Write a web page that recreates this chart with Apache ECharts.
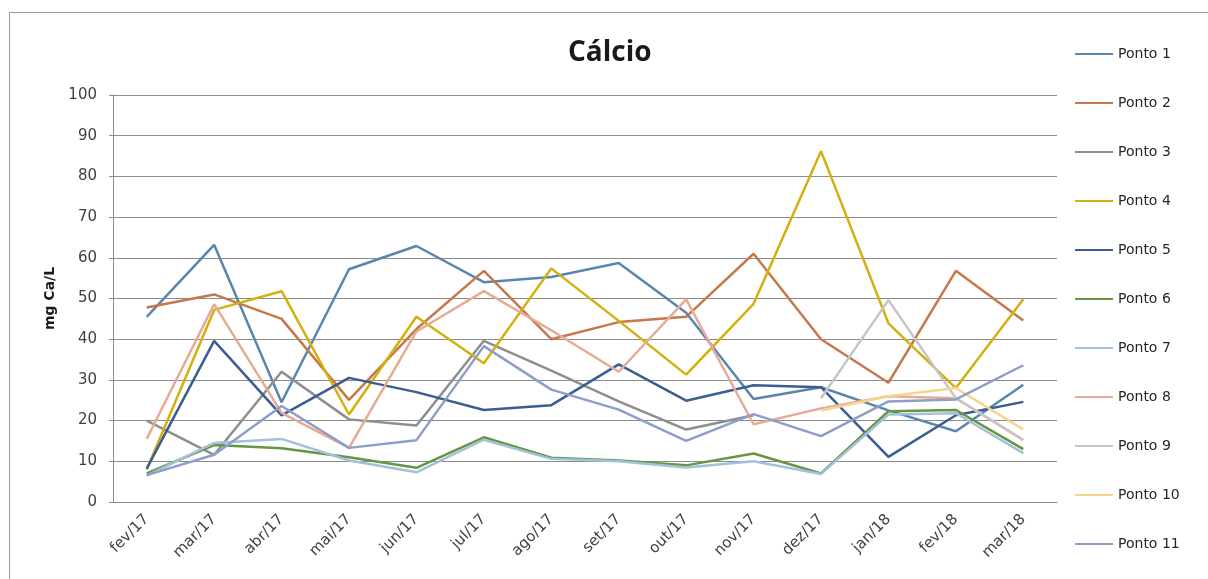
<!DOCTYPE html>
<html>
<head>
<meta charset="utf-8">
<script src="https://cdn.jsdelivr.net/npm/echarts@6/dist/echarts.min.js"></script>
<style>
html,body{margin:0;padding:0;background:#fff;}
#chart{width:1208px;height:579px;}
</style>
</head>
<body>
<div id="chart"></div>
<script>
var categories = ['fev/17','mar/17','abr/17','mai/17','jun/17','jul/17','ago/17','set/17','out/17','nov/17','dez/17','jan/18','fev/18','mar/18'];
var yTicks = [0,10,20,30,40,50,60,70,80,90,100];
var ponto1  = [45.5, 63.2, 24.5, 57.2, 62.9, 54.0, 55.3, 58.7, 46.5, 25.3, 28.2, 22.5, 17.4, 28.8];
var ponto2  = [47.8, 51.0, 45.0, 25.1, 42.5, 56.8, 40.0, 44.2, 45.5, 61.0, 40.0, 29.3, 56.8, 44.6];
var ponto3  = [20.0, 11.6, 32.0, 20.3, 18.8, 39.6, 32.3, 24.7, 17.8, 21.3, null, null, null, null];
var ponto4  = [8.0, 47.2, 51.8, 21.5, 45.5, 34.1, 57.4, 44.5, 31.3, 48.7, 86.2, 43.9, 28.0, 49.8];
var ponto5  = [8.2, 39.6, 21.3, 30.5, 27.0, 22.6, 23.8, 33.8, 24.9, 28.7, 28.2, 11.1, 21.3, 24.6];
var ponto6  = [7.0, 14.0, 13.2, 11.0, 8.4, 15.9, 10.9, 10.2, 9.0, 11.9, 7.0, 22.3, 22.6, 13.0];
var ponto7  = [6.5, 14.5, 15.5, 10.2, 7.3, 15.3, 10.6, 10.0, 8.5, 10.0, 6.9, 21.5, 21.8, 12.0];
var ponto8  = [15.5, 48.6, 21.9, 13.3, 41.9, 51.8, 42.2, 32.0, 49.8, 19.1, 23.0, 26.0, 25.5, 15.2];
var ponto9  = [null, null, null, null, null, null, null, null, null, null, 25.5, 49.6, 25.5, 15.3];
var ponto10 = [null, null, null, null, null, null, null, null, null, null, 22.5, 26.0, 28.0, 17.8];
var ponto11 = [6.6, 11.6, 23.6, 13.3, 15.2, 38.3, 27.6, 22.7, 15.0, 21.6, 16.2, 24.7, 25.2, 33.6];

var seriesNames = ['Ponto 1','Ponto 2','Ponto 3','Ponto 4','Ponto 5','Ponto 6','Ponto 7','Ponto 8','Ponto 9','Ponto 10','Ponto 11'];
var seriesData = [ponto1,ponto2,ponto3,ponto4,ponto5,ponto6,ponto7,ponto8,ponto9,ponto10,ponto11];
var colors = ['#5a86ad','#c6784a','#8e8e8e','#d3b00c','#3a5d92','#64973f','#a3c0dc','#e7ab95','#c6c6c6','#f6d48e','#8d9ec8'];

var chart = echarts.init(document.getElementById('chart'), null, {renderer:'canvas'});
var FONT = '"DejaVu Sans", Verdana, sans-serif';
var TFONT = '"Open Sans", "Noto Sans", sans-serif';
var option = {
  animation: false,
  backgroundColor: '#fff',
  color: colors,
  graphic: [{
    type: 'rect', left: 7, top: 10, silent: true,
    shape: {width: 1260, height: 640},
    style: {fill: 'none', stroke: '#9a9a9a', lineWidth: 1}
  }],
  title: {
    text: 'Cálcio', left: 568, top: 39, padding: 0,
    textStyle: {fontFamily: TFONT, fontSize: 28, fontWeight: 'bold', color: '#1a1a1a'}
  },
  legend: {
    orient: 'vertical', left: 1070, top: 41,
    icon: 'rect', itemWidth: 38, itemHeight: 2, itemGap: 33,
    textStyle: {fontFamily: FONT, fontSize: 14, color: '#262626', lineHeight: 16, height: 16},
    data: seriesNames
  },
  grid: {left: 113, right: 151, top: 95, bottom: 77, containLabel: false},
  xAxis: {
    type: 'category', data: categories, boundaryGap: true,
    axisLine: {show: true, lineStyle: {color: '#8c8c8c', width: 1}},
    axisTick: {show: false},
    axisLabel: {rotate: 45, margin: 15, fontFamily: FONT, fontSize: 15, color: '#404040', interval: 0}
  },
  yAxis: {
    type: 'value', min: 0, max: 100, interval: 10,
    name: 'mg Ca/L', nameLocation: 'middle', nameGap: 56, nameRotate: 90,
    nameTextStyle: {fontFamily: FONT, fontSize: 14, fontWeight: 'bold', color: '#1a1a1a'},
    axisLine: {show: true, lineStyle: {color: '#8c8c8c', width: 1}},
    axisTick: {show: true, length: 4, lineStyle: {color: '#8c8c8c'}},
    axisLabel: {fontFamily: FONT, fontSize: 15, color: '#404040', margin: 16,
      formatter: function(v){ return yTicks.indexOf(v) >= 0 ? String(v) : ''; }},
    splitLine: {show: true, lineStyle: {color: '#8c8c8c', width: 1}}
  },
  series: seriesData.map(function(d, i){
    return {
      name: seriesNames[i], type: 'line', data: d,
      symbol: 'none', showSymbol: false, connectNulls: false,
      lineStyle: {width: 2.5, color: colors[i]},
      itemStyle: {color: colors[i]},
      z: 2
    };
  })
};
chart.setOption(option);
</script>
</body>
</html>
